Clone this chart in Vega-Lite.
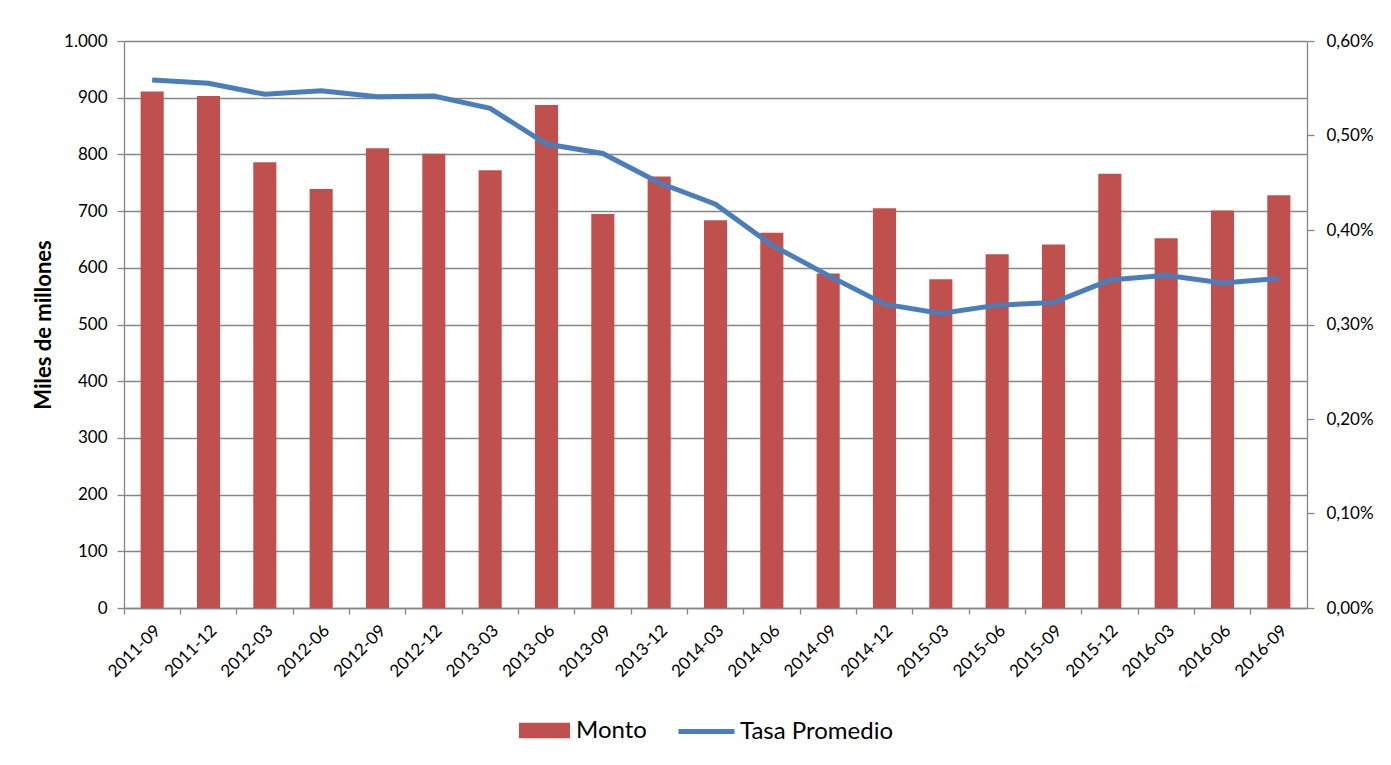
{
  "$schema": "https://vega.github.io/schema/vega-lite/v6.json",
  "autosize": {"type": "none"},
  "padding": {"left": 124, "top": 41, "right": 84, "bottom": 157},
  "width": 1183,
  "height": 567,
  "background": "white",
  "config": {
    "font": "Lato",
    "view": {"stroke": null},
    "axis": {"labelFont": "Lato", "titleFont": "Lato", "labelColor": "#000000", "titleColor": "#000000", "domainColor": "#868686", "tickColor": "#868686", "gridColor": "#868686", "domainWidth": 1.3, "tickWidth": 1.3, "gridWidth": 1.3}
  },
  "data": {
    "values": [
      {"periodo": "2011-09", "monto": 911, "tasa": 0.5587},
      {"periodo": "2011-12", "monto": 903, "tasa": 0.5552},
      {"periodo": "2012-03", "monto": 786, "tasa": 0.5436},
      {"periodo": "2012-06", "monto": 739, "tasa": 0.5474},
      {"periodo": "2012-09", "monto": 811, "tasa": 0.541},
      {"periodo": "2012-12", "monto": 801, "tasa": 0.5418},
      {"periodo": "2013-03", "monto": 772, "tasa": 0.5287},
      {"periodo": "2013-06", "monto": 887, "tasa": 0.491},
      {"periodo": "2013-09", "monto": 695, "tasa": 0.481},
      {"periodo": "2013-12", "monto": 761, "tasa": 0.45},
      {"periodo": "2014-03", "monto": 684, "tasa": 0.4274},
      {"periodo": "2014-06", "monto": 662, "tasa": 0.384},
      {"periodo": "2014-09", "monto": 590, "tasa": 0.352},
      {"periodo": "2014-12", "monto": 705, "tasa": 0.3215},
      {"periodo": "2015-03", "monto": 580, "tasa": 0.3117},
      {"periodo": "2015-06", "monto": 624, "tasa": 0.3205},
      {"periodo": "2015-09", "monto": 641, "tasa": 0.3233},
      {"periodo": "2015-12", "monto": 766, "tasa": 0.347},
      {"periodo": "2016-03", "monto": 652, "tasa": 0.352},
      {"periodo": "2016-06", "monto": 701, "tasa": 0.344},
      {"periodo": "2016-09", "monto": 728, "tasa": 0.3488}
    ]
  },
  "encoding": {
    "x": {
      "field": "periodo",
      "type": "ordinal",
      "scale": {"paddingInner": 0, "paddingOuter": 0},
      "axis": {"title": null, "labelAngle": -45, "labelFontSize": 17, "labelPadding": 8, "tickSize": 6, "bandPosition": 0, "grid": false, "labelOverlap": false}
    }
  },
  "layer": [
    {
      "mark": {"type": "bar", "width": {"band": 0.41}, "fill": "#C0504D"},
      "encoding": {
        "y": {
          "field": "monto",
          "type": "quantitative",
          "scale": {"domain": [0, 1000]},
          "axis": {"title": "Miles de millones", "titleFontSize": 22, "titleFontWeight": "bold", "titlePadding": 8, "labelFontSize": 17, "values": [0,100,200,300,400,500,600,700,800,900,1000], "labelOverlap": false, "tickSize": 7, "labelPadding": 10, "grid": true, "labelExpr": "replace(format(datum.value, ','), ',', '.')"}
        },
        "fill": {
          "datum": "Monto",
          "type": "nominal",
          "scale": {"range": ["#C0504D"]},
          "legend": {"title": null, "orient": "none", "legendX": 395, "legendY": 664, "padding": 0, "symbolType": "M-1,-0.3H1V0.3H-1Z", "symbolSize": 2601, "symbolStrokeWidth": 0, "labelFontSize": 24, "labelFont": "Lato", "labelColor": "#000000", "labelOffset": 6}
        }
      }
    },
    {
      "mark": {"type": "line", "strokeWidth": 5},
      "encoding": {
        "y": {
          "field": "tasa",
          "type": "quantitative",
          "scale": {"domain": [0, 0.6]},
          "axis": {"orient": "right", "title": null, "labelFontSize": 17, "values": [0,0.1,0.2,0.3,0.4,0.5,0.6], "labelOverlap": false, "tickSize": 7, "labelPadding": 12, "grid": false, "labelExpr": "replace(format(datum.value, '.2f'), '.', ',') + '%'"}
        },
        "stroke": {
          "datum": "Tasa Promedio",
          "type": "nominal",
          "scale": {"range": ["#4A7EBB"]},
          "legend": {"title": null, "orient": "none", "legendX": 552, "legendY": 660, "padding": 0, "symbolType": "stroke", "symbolSize": 3136, "symbolStrokeWidth": 5, "labelFontSize": 24, "labelFont": "Lato", "labelColor": "#000000", "labelOffset": 3}
        }
      }
    }
  ],
  "resolve": {"scale": {"y": "independent", "fill": "independent", "stroke": "independent"}}
}
